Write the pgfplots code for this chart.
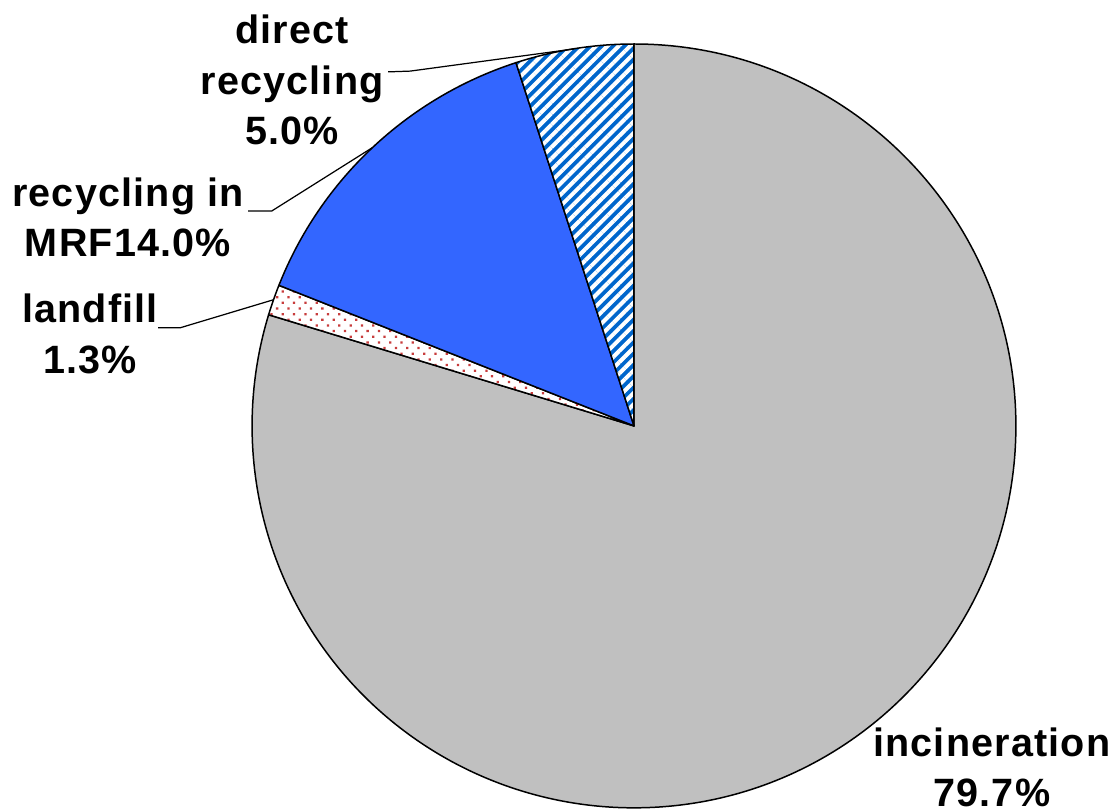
\documentclass[border=0pt]{standalone}
\usepackage{pgfplots}
\pgfplotsset{compat=1.18}
\usepackage{pgfplotstable}
\usepackage{fontspec}
\setmainfont{Liberation Sans}
\usetikzlibrary{patterns.meta}

\definecolor{incgray}{RGB}{192,192,192}
\definecolor{mrfblue}{RGB}{51,102,255}
\definecolor{dirblue}{RGB}{0,102,204}
\definecolor{dotred}{RGB}{200,60,60}

\tikzset{
  wedge/.style={draw=black, line width=0.85pt, line join=round},
  incin/.style={wedge, fill=incgray},
  landf/.style={wedge, preaction={fill=white},
    pattern={Dots[radius=0.032cm, distance=0.16cm, angle=45]}, pattern color=dotred},
  mrf/.style={wedge, fill=mrfblue},
  direct/.style={wedge, preaction={fill=dirblue},
    pattern={Lines[angle=45, distance=0.16cm, line width=0.08cm]}, pattern color=white},
  lbl/.style={font=\bfseries\fontsize{22.5}{28.5}\selectfont\addfontfeatures{LetterSpace=3},
    align=center, text=black, inner sep=0pt},
  leader/.style={draw=black, line width=0.7pt},
}

\begin{document}
\begin{tikzpicture}
\begin{axis}[
  x=7.64cm, y=7.64cm,
  xmin=-1.660, xmax=1.249,
  ymin=-1.0105, ymax=1.1152,
  hide axis, clip=false,
]
\path (rel axis cs:0,0) rectangle (rel axis cs:1,1);

% shares in percent, clockwise from 12 o'clock
\foreach \share/\sty [remember=\angB as \angA (initially 90)] in
    {79.7/incin, 1.3/landf, 14.0/mrf, 5.0/direct} {
  \pgfmathsetmacro{\angB}{\angA-3.6*\share}
  \edef\wedgecmd{\noexpand\path[\sty] (axis cs:0,0) --
    (axis cs:{cos(\angA)},{sin(\angA)})
    arc[start angle=\angA, end angle=\angB, radius=7.64cm] -- cycle;}
  \wedgecmd
}

% leader lines
\draw[leader] (axis cs:-0.644,0.927) -- (axis cs:-0.586,0.929) -- (axis cs:-0.157,0.987);
\draw[leader] (axis cs:-1.010,0.563) -- (axis cs:-0.948,0.563) -- (axis cs:-0.686,0.728);
\draw[leader] (axis cs:-1.246,0.257) -- (axis cs:-1.188,0.257) -- (axis cs:-0.945,0.330);

% labels
\node[lbl] at (axis cs:-0.895,0.906) {direct\\recycling\\5.0\%};
\node[lbl] at (axis cs:-1.325,0.547) {recycling in\\MRF14.0\%};
\node[lbl] at (axis cs:-1.424,0.241) {landfill\\1.3\%};
\node[lbl] at (axis cs:0.937,-0.893) {incineration\\79.7\%};
\end{axis}
\end{tikzpicture}
\end{document}
